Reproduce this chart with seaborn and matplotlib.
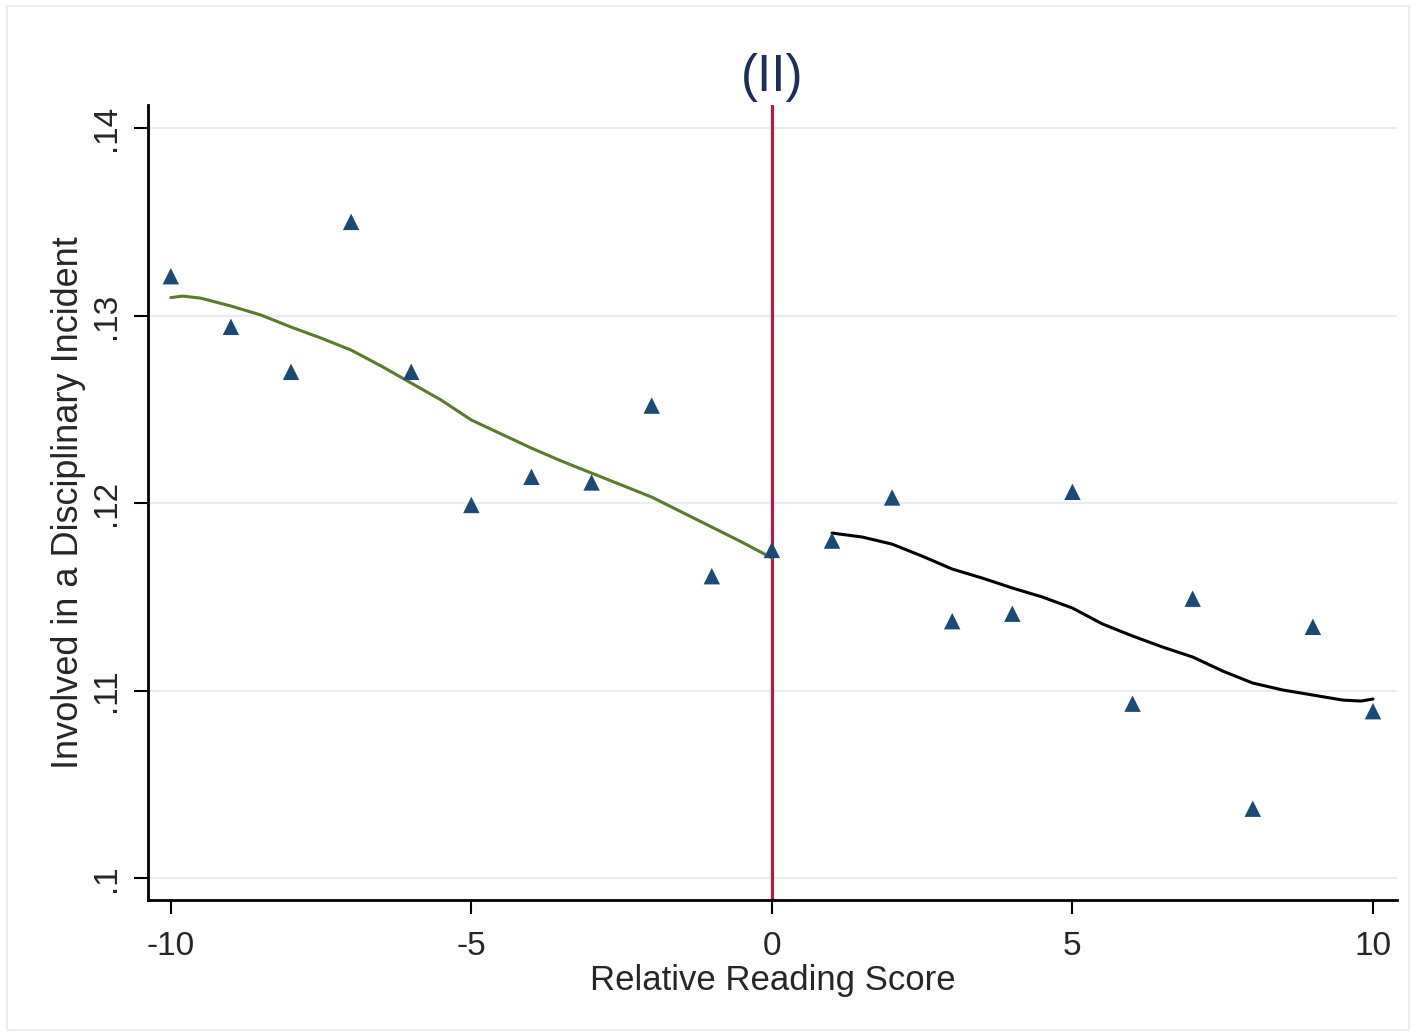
import matplotlib
matplotlib.use("Agg")
import matplotlib.pyplot as plt
import seaborn as sns
import pandas as pd
from matplotlib.patches import Rectangle

# binned means
score = [-10, -9, -8, -7, -6, -5, -4, -3, -2, -1, 0,
         1, 2, 3, 4, 5, 6, 7, 8, 9, 10]
incident = [.1321, .1294, .1270, .1350, .1270, .1199, .1214, .1211, .1252, .1161, .1175,
            .1180, .1203, .1137, .1141, .1206, .1093, .1149, .1037, .1134, .1089]

# smoothed fit, left of cutoff
left_x = [-10, -9.8, -9.5, -9, -8.5, -8, -7.5, -7, -6.5, -6, -5.5,
          -5, -4.5, -4, -3.5, -3, -2.5, -2, -1.5, -1, -0.5, 0]
left_y = [.13096, .13104, .13093, .13051, .13003, .12939, .12880, .12816, .12731, .12640, .12549,
          .12443, .12368, .12293, .12224, .12160, .12096, .12032, .11952, .11872, .11792, .11707]

# smoothed fit, right of cutoff
right_x = [1, 1.5, 2, 2.5, 3, 3.5, 4, 4.5, 5, 5.5, 6,
           6.5, 7, 7.5, 8, 8.5, 9, 9.5, 9.8, 10]
right_y = [.11840, .11819, .11781, .11717, .11648, .11600, .11547, .11499, .11440, .11355, .11291,
           .11232, .11179, .11104, .11040, .11003, .10976, .10949, .10944, .10955]

xticks = [-10, -5, 0, 5, 10]
yticks = [.10, .11, .12, .13, .14]
ytick_labels = [".1", ".11", ".12", ".13", ".14"]

sns.set_style("white")
plt.rcParams['font.family'] = ['Liberation Sans', 'DejaVu Sans']

fig = plt.figure(figsize=(14.16, 10.36), dpi=100)
ax = fig.add_axes([0.1045, 0.1313, 0.8821, 0.7673])

# outer light frame
fig.patches.append(Rectangle((7 / 1416, 6 / 1036), 1402 / 1416, 1024 / 1036,
                             transform=fig.transFigure, fill=False,
                             edgecolor="#e9edf3", linewidth=1.5))

for t in yticks:
    ax.axhline(t, color="#e9edf3", lw=1.6, zorder=0)

ax.axvline(0, color="#cc1038", lw=2.2, zorder=1)

df_pts = pd.DataFrame({"score": score, "incident": incident})
sns.scatterplot(data=df_pts, x="score", y="incident", marker="^", s=140,
                color="#1b4a76", edgecolor="none", ax=ax, zorder=3)

sns.lineplot(x=left_x, y=left_y, color="#5a7b2b", lw=2.2, ax=ax, zorder=2)
sns.lineplot(x=right_x, y=right_y, color="black", lw=2.2, ax=ax, zorder=2)

ax.set_xlim(-10.38, 10.4)
ax.set_ylim(0.09883, 0.14123)
ax.set_xticks(xticks)
ax.set_xticklabels([str(t) for t in xticks])
ax.set_yticks(yticks)
ax.set_yticklabels(ytick_labels, rotation=90, va="center")

for side in ["top", "right"]:
    ax.spines[side].set_visible(False)
for side in ["left", "bottom"]:
    ax.spines[side].set_color("black")
    ax.spines[side].set_linewidth(2)

ax.tick_params(axis="both", direction="out", length=10, width=1.5, color="black",
               labelsize=24, pad=9, left=True, bottom=True)
ax.tick_params(axis="x", pad=12)

ax.set_xlabel("Relative Reading Score", fontsize=25, labelpad=2)
ax.set_ylabel("Involved in a Disciplinary Incident", fontsize=26, labelpad=3)
ax.set_title("(II)", fontsize=37, color="#1c2f5a", pad=10)

fig.savefig("out.png", dpi=100)
